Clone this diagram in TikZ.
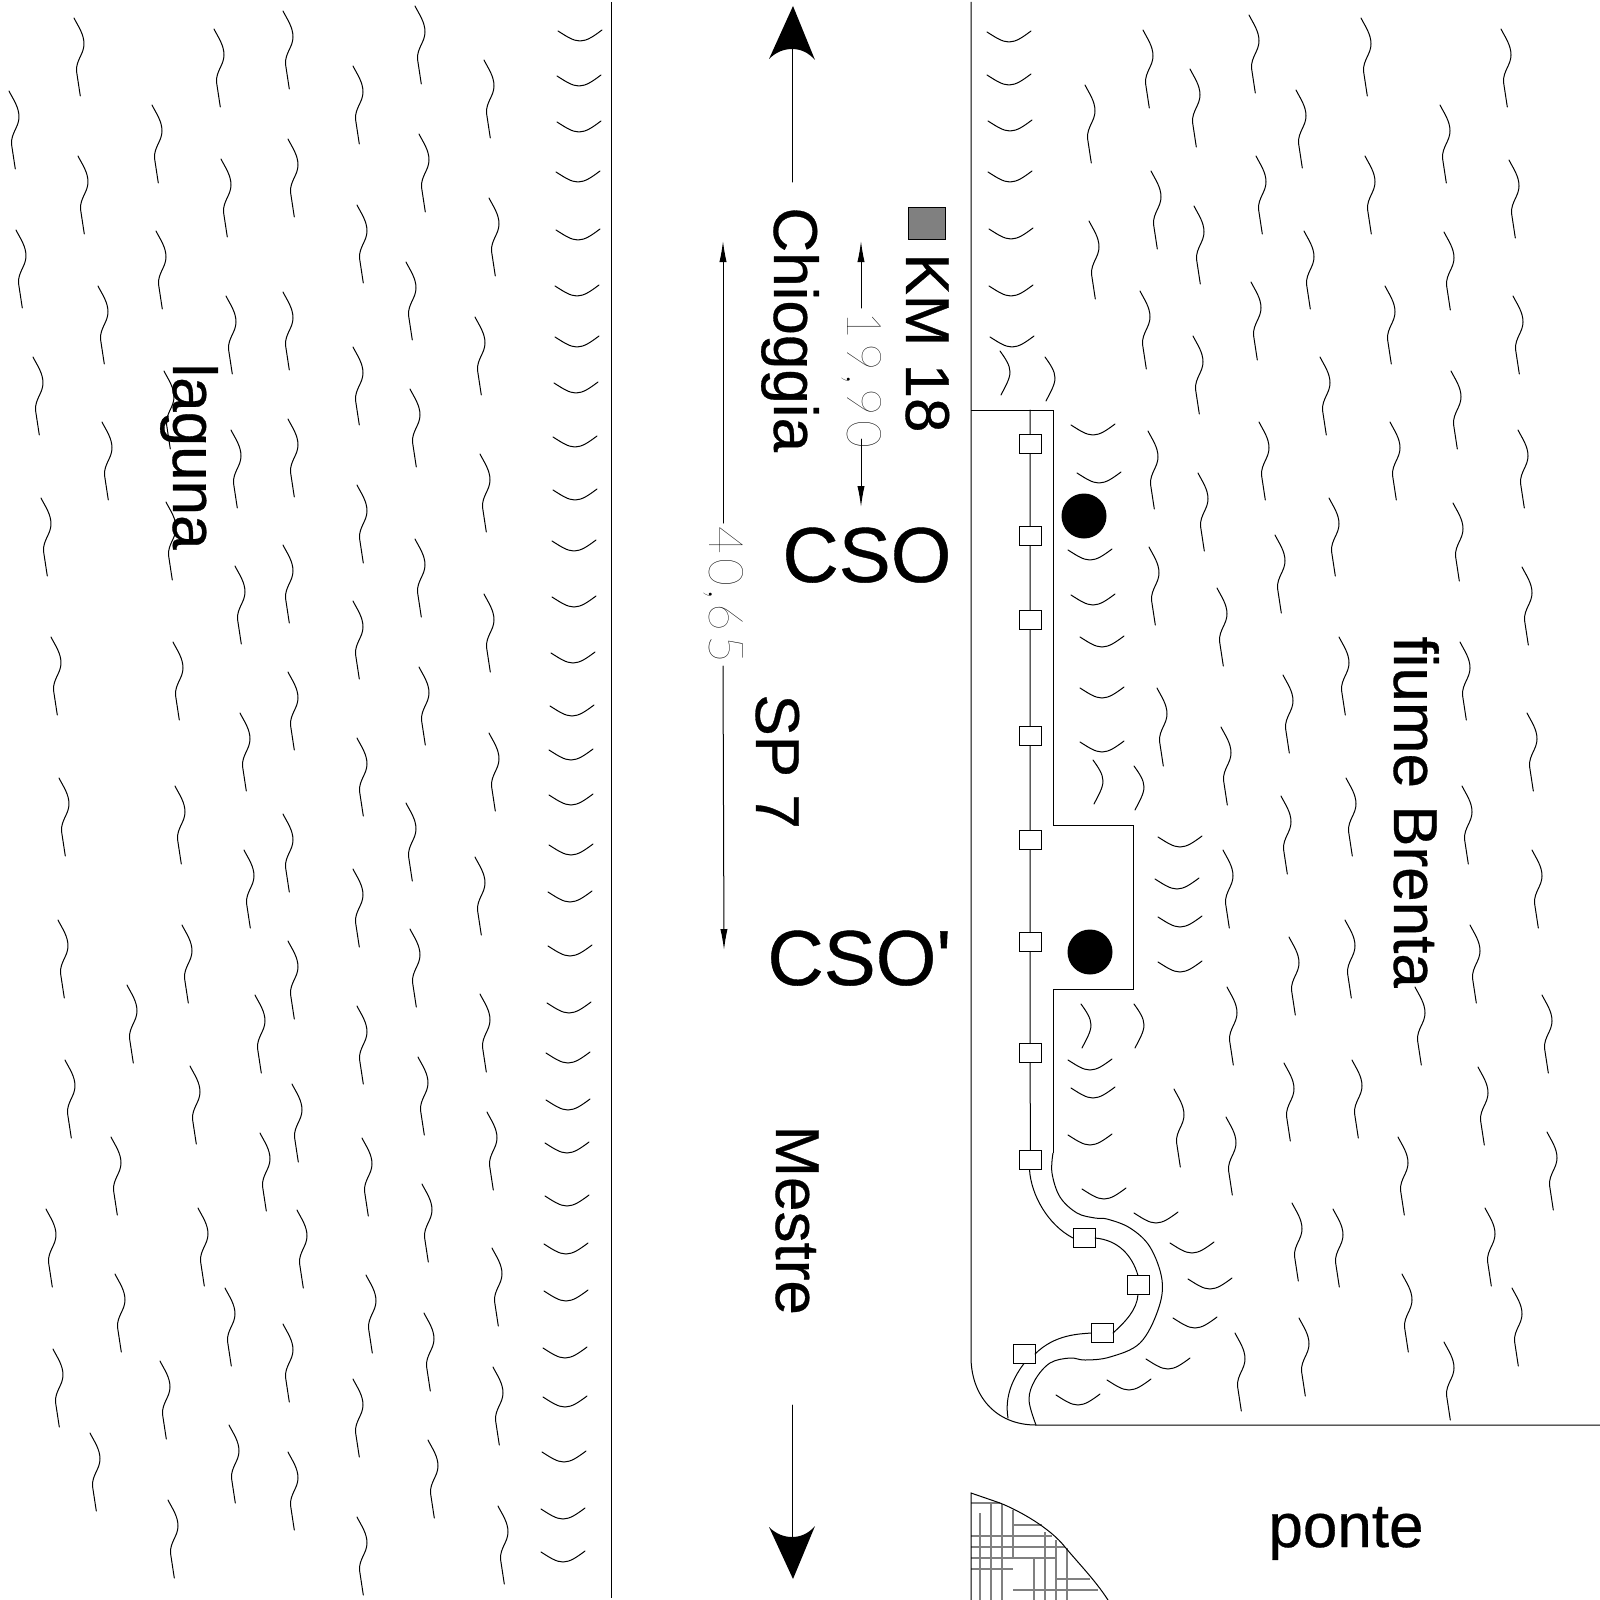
\documentclass[tikz,border=0pt]{standalone}
\usepackage{fontspec}
\usetikzlibrary{arrows.meta}
\setmainfont[FakeBold=0.5,Ligatures=TeXOff]{Liberation Sans}
\newfontfamily\thinfont[UprightFont=* Thin,LetterSpace=8]{Lato}
\tikzset{
  ink/.style={line width=0.5pt,line join=round,line cap=round},
  road/.style={line width=0.5pt,line join=miter},
  hatchline/.style={line width=0.55pt,draw={rgb,255:red,128;green,128;blue,128}},
  label/.style={inner sep=0pt,anchor=base west,font=\fontsize{31}{36}\selectfont},
  vlabel/.style={label,rotate=-90},
  bigbl/.style={inner sep=0pt,anchor=base west,font=\fontsize{39}{44}\selectfont},
  dimtext/.style={inner sep=0pt,anchor=base west,rotate=-90,font=\thinfont\fontsize{24}{28}\selectfont},
  dim/.style={ink,-{Latex[length=10.5pt,width=3.6pt]}},
  post/.style={draw,line width=0.5pt,fill=white,minimum width=11pt,minimum height=9.5pt,inner sep=0pt,outer sep=0pt},
  dot/.style={circle,fill=black,minimum size=22.5pt,inner sep=0pt},
  squig/.pic={\draw[ink] (0,0) .. controls (4,8) and (10,16) .. (10,26) .. controls (10,36) and (2,42) .. (2.5,53) -- (6.3,78);},
  smile/.pic={\draw[ink] (0,0) .. controls (8,5) and (15,10) .. (22,10) .. controls (29,10) and (36,5) .. (44,-1);},
  bow/.pic={\draw[ink] (0,0) .. controls (5,7) and (10,14) .. (10,21) .. controls (10,28) and (5,36) .. (1,44);},
}
\begin{document}
\begin{tikzpicture}[x=0.5pt,y=-0.5pt]
\useasboundingbox (0,0) rectangle (1600,1600);
\fill[white] (0,0) rectangle (1600,1600);
% water marks, lagoon
\foreach \x/\y in {74/18,214/29,283/11,415/6,484/60,353/66,9/91,152/105,78/156,221/159,288/139,419/134,357/205,489/198,16/230,156/231,406/262,98/286,226/296,283/292,475/317,33/357,353/347,164/371,410/389,102/422,231/430,288/419,480/454,357/485,41/498,166/502,415/539,235/566,283/545,353/601,484/594,51/637,173/642,419/667,288/672,240/713,357/738,489/733,59/778,175/786,283/814,406/803,244/850,475/857,353/869,58/920,182/925,410/929,288/941,127/985,255/995,480/994,357/1006,65/1060,190/1066,418/1057,292/1084,111/1137,260/1133,362/1138,487/1112,422/1184,46/1209,198/1208,297/1210,492/1248,115/1274,225/1288,366/1275,53/1349,283/1324,424/1313,160/1361,353/1379,493/1367,90/1433,229/1425,288/1452,428/1440,168/1500,357/1517,498/1506}
  {\pic at (\x,\y) {squig};}
\foreach \x/\y in {558/31,557/76,557/122,556/172,556/230,555/286,555/337,554/383,553/437,553/490,552/541,552/597,551/653,550/706,549/750,549/795,549/845,548/892,548/946,547/1003,546/1053,546/1100,545/1143,545/1196,544/1244,544/1291,543/1348,543/1397,542/1452,541/1509,541/1552}
  {\pic at (\x,\y) {smile};}
% water marks, river
\foreach \x/\y in {1143/30,1085/85,1190/69,1249/15,1361/18,1501/29,1296/90,1440/105,1151/171,1256/156,1365/156,1509/160,1089/221,1194/206,1304/231,1444/232,1140/291,1251/282,1385/286,1513/296,1193/336,1320/357,1451/371,1148/431,1259/422,1390/422,1518/430,1198/473,1329/498,1453/503,1149/547,1275/535,1522/567,1217/588,1339/637,1460/642,1157/688,1283/675,1221/727,1527/713,1346/778,1281/796,1462/786,1223/850,1532/850,1345/920,1289/937,1470/925,1227/987,1415/987,1542/995,1284/1063,1352/1060,1478/1067,1174/1089,1226/1117,1398/1137,1547/1132,1292/1203,1333/1209,1485/1208,1402/1274,1512/1288,1299/1318,1235/1333,1444/1342}
  {\pic at (\x,\y) {squig};}
\foreach \x/\y in {987/32,987/75,988/121,988/172,989/229,989/286,990/337,1071/425,1077/473,1068/550,1071/595,1080/637,1080/688,1080/742,1158/837,1155/879,1158/917,1158/962,1068/1060,1071/1088,1068/1135,1082/1189,1134/1213,1170/1243,1188/1279,1173/1318,1146/1359,1107/1380,1056/1395}
  {\pic at (\x,\y) {smile};}
\foreach \x/\y in {1000/351,1045/357,1093/760,1134/766,1081/1004,1134/1004}
  {\pic at (\x,\y) {bow};}
% road
\draw[road] (611,2) -- (611,1598);
\draw[road] (971,2) -- (971,1357) .. controls (971,1395) and (995,1425) .. (1036,1425) -- (1600,1425);
% embankment
\draw[road] (971,410) -- (1053,410) -- (1053,825) -- (1133.5,825) -- (1133.5,989) -- (1053,989) -- (1053,1153);
\draw[ink] plot[smooth,tension=0.6] coordinates {(1053,1153) (1052,1173) (1060,1197) (1077,1213) (1095,1218) (1107,1219) (1130,1228) (1150,1247) (1162,1280) (1158,1310) (1140,1343) (1110,1357) (1085,1360) (1070,1358) (1050,1363) (1035,1380) (1029,1400) (1036,1425)};
% posts
\coordinate (railtop) at (1030,410);
\node[post] (p1) at (1030,444) {};
\node[post] (p2) at (1030,536) {};
\node[post] (p3) at (1030,620) {};
\node[post] (p4) at (1030,736) {};
\node[post] (p5) at (1030,840) {};
\node[post] (p6) at (1030,942) {};
\node[post] (p7) at (1030,1053) {};
\node[post] (p8) at (1030.5,1160) {};
\node[post] (p9) at (1084,1238) {};
\node[post] (p10) at (1138,1285) {};
\node[post] (p11) at (1102,1333) {};
\node[post] (p12) at (1024,1354) {};
\coordinate (railend) at (1008,1418);
\draw[ink] (railtop) -- (p1) -- (p2) -- (p3) -- (p4) -- (p5) -- (p6) -- (p7) -- (p8);
\draw[ink] (p8.south) ++(-1,0) .. controls (1031,1195) and (1048,1225) .. (p9.west);
\draw[ink] (p9.east) .. controls (1118,1240) and (1132,1255) .. (p10.north);
\draw[ink] (p10.south) .. controls (1137,1310) and (1125,1322) .. (p11.east);
\draw[ink] (p11.west) .. controls (1080,1334) and (1055,1334) .. (p12.east);
\draw[ink] (p12.south) .. controls (1010,1382) and (1005,1400) .. (railend);
% stations
\node[dot] (c1) at (1084,516) {};
\node[dot] (c2) at (1090,952) {};
\node[draw,line width=0.5pt,fill={rgb,255:red,128;green,128;blue,128},minimum width=18.5pt,minimum height=16pt,inner sep=0pt] (km) at (926.5,223) {};
% direction arrows
\coordinate (upstart) at (792,182);
\coordinate (uphead) at (792,49);
\coordinate (uptip) at (793,6);
\coordinate (dnstart) at (792,1405);
\coordinate (dnhead) at (792,1537);
\coordinate (dntip) at (793,1579);
\draw[ink] (upstart) -- (uphead);
\fill (uptip) -- (815,60) .. controls (808,52) and (800,49) .. (uphead) .. controls (784,49) and (776,52) .. (769,59) -- cycle;
\draw[ink] (dnstart) -- (dnhead);
\fill (dntip) -- (769,1527) .. controls (776,1534) and (784,1537) .. (dnhead) .. controls (800,1537) and (808,1534) .. (815,1526) -- cycle;
% dimensions
\node[dimtext] (d1) at (847,311) {19,90};
\node[dimtext] (d2) at (709,526) {40,65};
\coordinate (d1a) at (861,308);
\coordinate (d1b) at (861,241);
\coordinate (d1c) at (861,439);
\coordinate (d1d) at (861,507);
\coordinate (d2a) at (723,523);
\coordinate (d2b) at (723,241);
\coordinate (d2c) at (723,666);
\coordinate (d2d) at (724,950);
\draw[dim] (d1a) -- (d1b);
\draw[dim] (d1c) -- (d1d);
\draw[dim] (d2a) -- (d2b);
\draw[dim] (d2c) -- (d2d);
% labels
\node[vlabel] (t1) at (774,207) {Chioggia};
\node[vlabel] (t2) at (906,253) {KM 18};
\node[vlabel] (t3) at (173,363) {laguna};
\node[vlabel] (t4) at (1394,636) {fiume Brenta};
\node[vlabel] (t5) at (756,694) {SP 7};
\node[vlabel] (t6) at (776,1125) {Mestre};
\node[bigbl] (t7) at (782,582) {CSO};
\node[bigbl] (t8) at (767,985) {CSO'};
\node[label] (t9) at (1268,1547) {ponte};
% bridge abutment
\draw[hatchline] (980,1513) -- (980,1600) (991,1503) -- (991,1600) (1002,1504) -- (1002,1600) (1013,1510) -- (1013,1558) (1034,1558) -- (1034,1600) (1045,1532) -- (1045,1600) (1056,1540) -- (1056,1600) (1067,1548) -- (1067,1600)
  (971,1503) -- (1000,1503) (1013,1525) -- (1042,1525) (971,1536) -- (1052,1536) (971,1547) -- (1065,1547) (971,1558) -- (1056,1558) (971,1569) -- (1013,1569) (1056,1579) -- (1090,1579) (1013,1590) -- (1098,1590);
\draw[road] (971,1600) -- (971,1493) -- (1000,1503) .. controls (1020,1511) and (1050,1528) .. (1065,1547) .. controls (1080,1565) and (1095,1580) .. (1108,1600);
\end{tikzpicture}
\end{document}
